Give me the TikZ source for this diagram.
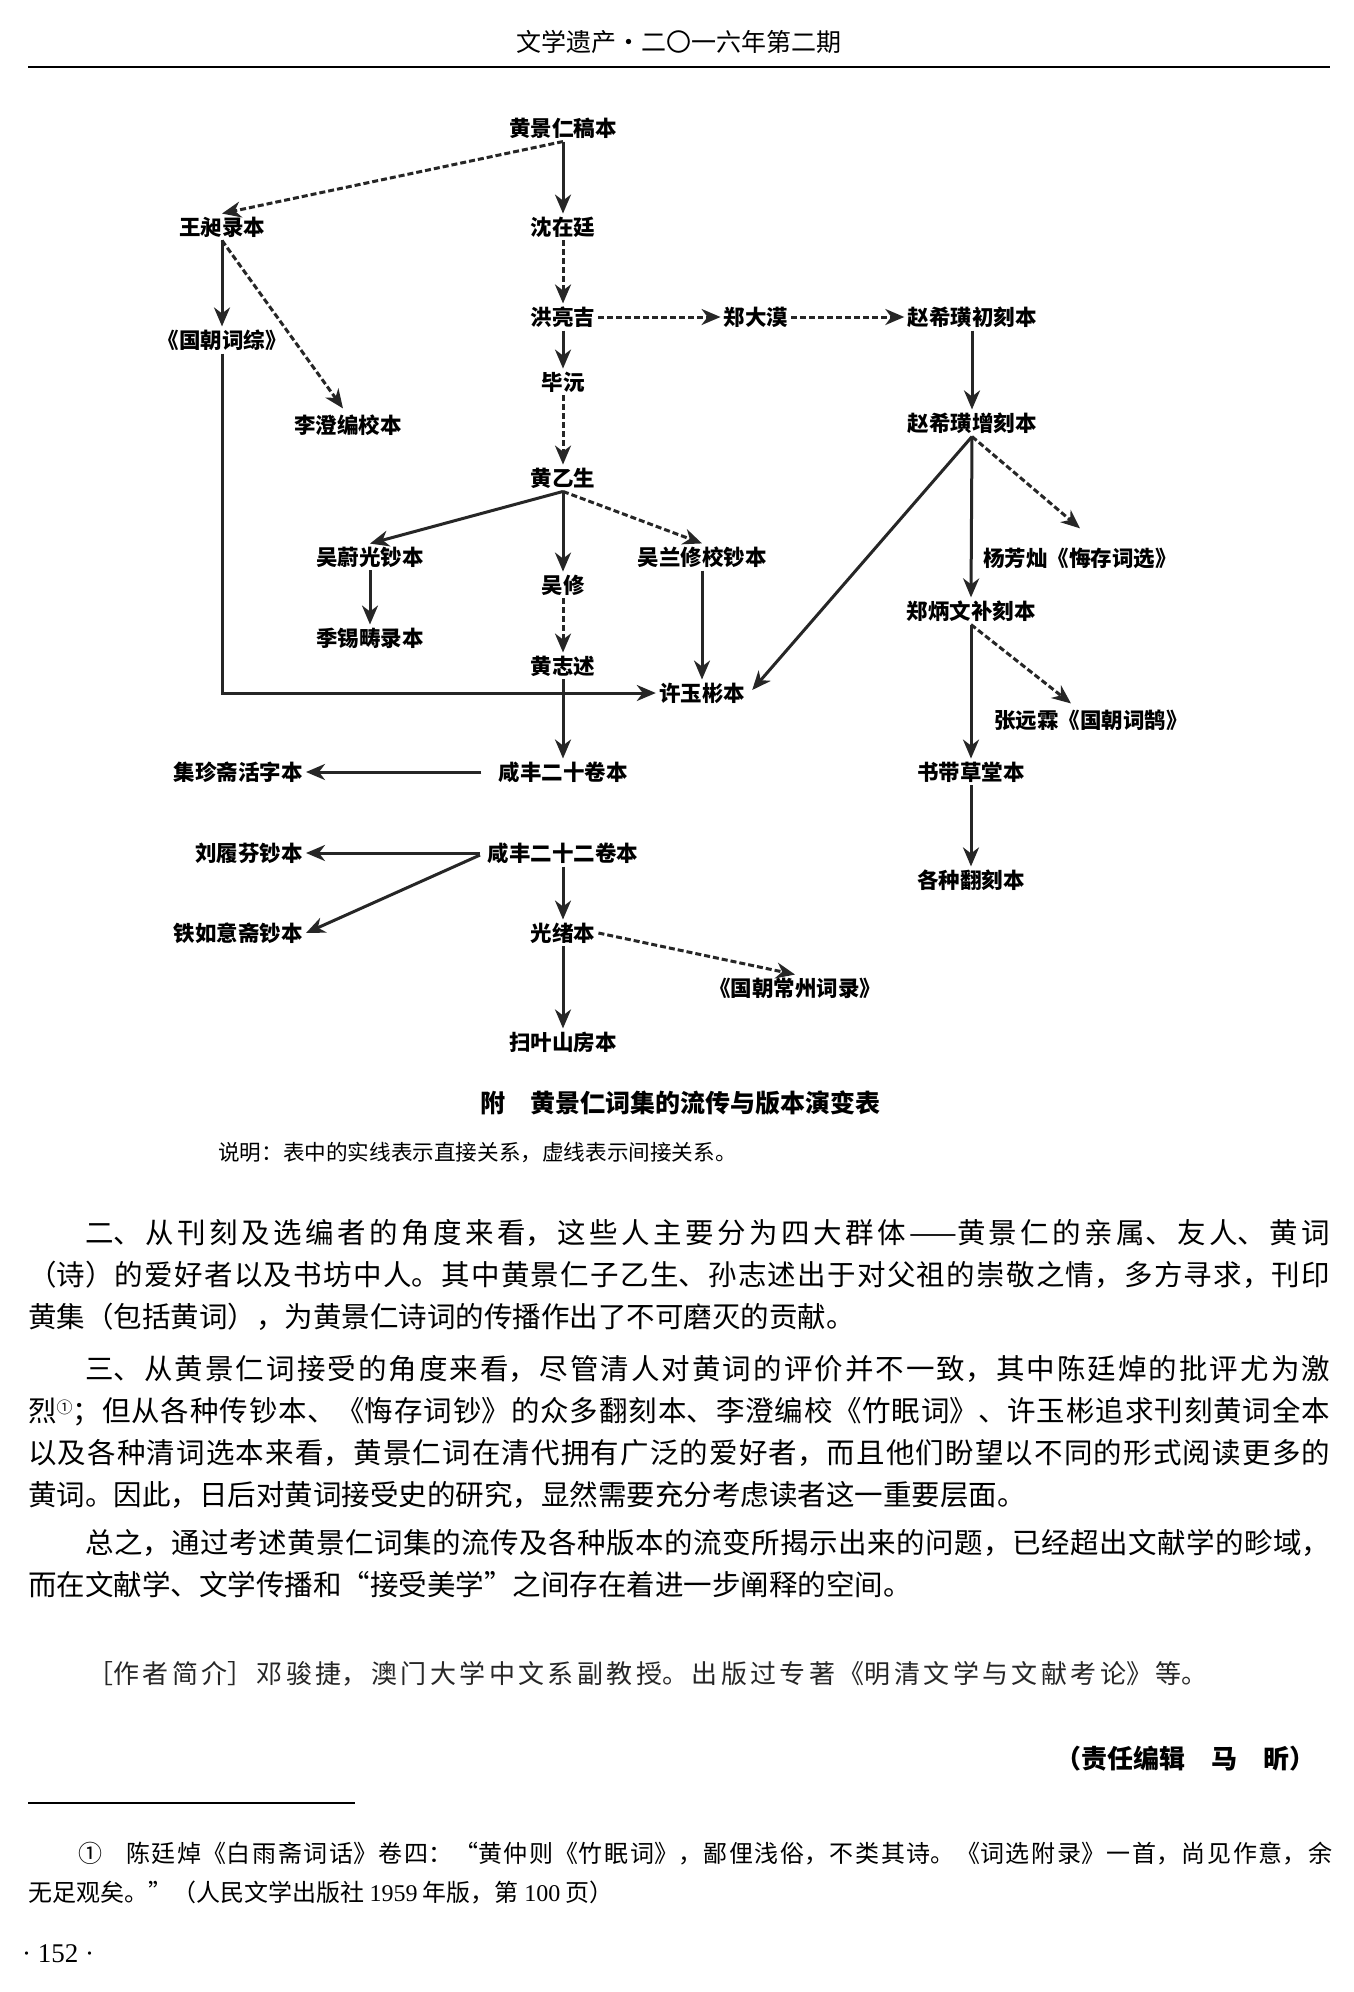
\documentclass[tikz,border=0pt]{standalone}
\usepackage{fontspec}
\setmainfont{Noto Sans CJK SC}
\newfontfamily\serifnum{Liberation Serif}
\usetikzlibrary{arrows.meta}
\XeTeXlinebreaklocale "zh"
\XeTeXlinebreakskip=0pt plus 1fil
\definecolor{ink}{HTML}{262626}
\newcommand{\lastline}{\hfill\mbox{}}
\tikzset{
  lbl/.style={font=\fontsize{21.5}{22}\selectfont\bfseries, inner sep=3pt, text=black},
  sol/.style={draw=ink, line width=3pt, -{Stealth[length=19pt,width=16pt,inset=6pt]}},
  dsh/.style={sol, dash pattern=on 6pt off 3pt},
  para/.style={anchor=base west, inner sep=0pt, align=justify, text width=1302pt, font=\fontsize{28.5}{42}\selectfont},
}
\begin{document}
\begin{tikzpicture}[x=1pt,y=-1pt]
\useasboundingbox (0,0) rectangle (1354,1992);
\fill[white] (0,0) rectangle (1354,1992);

% header
\node[anchor=base, inner sep=0pt, font=\fontsize{25}{25}\selectfont] (hdr) at (679,51) {文学遗产·二〇一六年第二期};
\draw[line width=2pt] (28,67) -- (1330,67);

% diagram nodes
\node[lbl] (gj)   at (563,128) {黄景仁稿本};
\node[lbl] (wc)   at (222,227) {王昶录本};
\node[lbl] (szt)  at (563,227) {沈在廷};
\node[lbl] (hlj)  at (563,317) {洪亮吉};
\node[lbl] (zdm)  at (756,317) {郑大漠};
\node[lbl] (zc)   at (972,317) {赵希璜初刻本};
\node[lbl] (gcz)  at (222,340) {《国朝词综》};
\node[lbl] (by)   at (563,382) {毕沅};
\node[lbl] (lc)   at (348,425) {李澄编校本};
\node[lbl] (zz)   at (972,423) {赵希璜增刻本};
\node[lbl] (hys)  at (563,478) {黄乙生};
\node[lbl] (wwg)  at (370,557) {吴蔚光钞本};
\node[lbl] (wlx)  at (702,557) {吴兰修校钞本};
\node[lbl] (yfc)  at (1080,558) {杨芳灿《悔存词选》};
\node[lbl] (wx)   at (563,585) {吴修};
\node[lbl] (zbw)  at (971,611) {郑炳文补刻本};
\node[lbl] (jxc)  at (370,638) {季锡畴录本};
\node[lbl] (hzs)  at (563,666) {黄志述};
\node[lbl] (xyb)  at (702,693) {许玉彬本};
\node[lbl] (zyl)  at (1091,720) {张远霖《国朝词鹄》};
\node[lbl,anchor=east] (jzz) at (306,772) {集珍斋活字本};
\node[lbl] (xf20) at (563,772) {咸丰二十卷本};
\node[lbl] (sdc)  at (971,772) {书带草堂本};
\node[lbl,anchor=east] (llf) at (306,853) {刘履芬钞本};
\node[lbl] (xf22) at (563,853) {咸丰二十二卷本};
\node[lbl] (gzf)  at (971,880) {各种翻刻本};
\node[lbl,anchor=east] (tyy) at (306,933) {铁如意斋钞本};
\node[lbl] (gx)   at (563,933) {光绪本};
\node[lbl] (gczz) at (795,988) {《国朝常州词录》};
\node[lbl] (syz)  at (563,1042) {扫叶山房本};

% connectors
\draw[dsh] (gj.south) -- (wc.north);
\draw[sol] (gj.south) -- (szt.north);
\draw[dsh] (szt.south) -- (hlj.north);
\draw[sol] (hlj.south) -- (by.north);
\draw[dsh] (by.south) -- (hys.north);
\draw[dsh] (hlj.east) -- (zdm.west);
\draw[dsh] (zdm.east) -- (zc.west);
\draw[sol] (zc.south) -- (zz.north);
\draw[sol] (zz.south) -- ([xshift=4pt,yshift=3pt]xyb.east);
\draw[sol] (zz.south) -- (zbw.north);
\draw[dsh] (zz.south) -- ([yshift=16pt]yfc.north);
\draw[sol] (zbw.south) -- (sdc.north);
\draw[dsh] (zbw.south) -- ([xshift=-20pt,yshift=3pt]zyl.north);
\draw[sol] (sdc.south) -- (gzf.north);
\draw[sol] (wc.south) -- (gcz.north);
\draw[dsh] (wc.south) -- ([xshift=-5pt,yshift=3pt]lc.north);
\draw[sol] (gcz.south) |- (xyb.west);
\draw[sol] (hys.south) -- (wwg.north);
\draw[sol] (hys.south) -- (wx.north);
\draw[dsh] (hys.south) -- (wlx.north);
\draw[sol] (wwg.south) -- (jxc.north);
\draw[dsh] (wx.south) -- (hzs.north);
\draw[sol] (wlx.south) -- (xyb.north);
\draw[sol] (hzs.south) -- (xf20.north);
\draw[sol, shorten <=14pt] (xf20.west) -- (jzz.east);
\draw[sol, shorten <=5pt] (xf22.west) -- (llf.east);
\draw[sol, shorten <=5pt] (xf22.west) -- (tyy.east);
\draw[sol] (xf22.south) -- (gx.north);
\draw[sol] (gx.south) -- (syz.north);
\draw[dsh] (gx.east) -- (gczz.north);

% caption and note
\node[anchor=base, inner sep=0pt, font=\fontsize{25}{25}\selectfont\bfseries] (cap) at (680,1112) {附　黄景仁词集的流传与版本演变表};
\node[anchor=base west, inner sep=0pt, font=\fontsize{21.6}{22}\selectfont] (note) at (218,1160) {说明：表中的实线表示直接关系，虚线表示间接关系。};

% body paragraphs
\node[para] (p1) at (28,1243) {\hspace*{57pt}二、从刊刻及选编者的角度来看，这些人主要分为四大群体——黄景仁的亲属、友人、黄词\linebreak（诗）的爱好者以及书坊中人。其中黄景仁子乙生、孙志述出于对父祖的崇敬之情，多方寻求，刊印\linebreak 黄集（包括黄词），为黄景仁诗词的传播作出了不可磨灭的贡献。\lastline};
\node[para] (p2) at (28,1379) {\hspace*{57pt}三、从黄景仁词接受的角度来看，尽管清人对黄词的评价并不一致，其中陈廷焯的批评尤为激\linebreak 烈\raisebox{8pt}{\fontsize{16}{16}\selectfont ①}；但从各种传钞本、《悔存词钞》的众多翻刻本、李澄编校《竹眠词》、许玉彬追求刊刻黄词全本\linebreak 以及各种清词选本来看，黄景仁词在清代拥有广泛的爱好者，而且他们盼望以不同的形式阅读更多的\linebreak 黄词。因此，日后对黄词接受史的研究，显然需要充分考虑读者这一重要层面。\lastline};
\node[para] (p3) at (28,1553) {\hspace*{57pt}总之，通过考述黄景仁词集的流传及各种版本的流变所揭示出来的问题，已经超出文献学的畛域，\linebreak 而在文献学、文学传播和“接受美学”之间存在着进一步阐释的空间。\lastline};

% author note
\node[anchor=base west, inner sep=0pt, align=justify, text width=1124pt, font=\fontsize{26}{30}\selectfont, text=black!85] (auth) at (87,1683) {\parfillskip=0pt［作者简介］邓骏捷，澳门大学中文系副教授。出版过专著《明清文学与文献考论》等。};

\node[anchor=base east, inner sep=0pt, font=\fontsize{26}{26}\selectfont\bfseries] (ed) at (1316,1768) {（责任编辑　马　昕）};

% footnote
\draw[line width=1.5pt] (28,1803) -- (355,1803);
\node[anchor=base west, inner sep=0pt, align=justify, text width=1304pt, font=\fontsize{24}{39}\selectfont] (fn) at (28,1862) {\hspace*{50pt}①\hspace*{24pt}陈廷焯《白雨斋词话》卷四：“黄仲则《竹眠词》，鄙俚浅俗，不类其诗。《词选附录》一首，尚见作意，余\linebreak 无足观矣。”（人民文学出版社 {\serifnum 1959} 年版，第 {\serifnum 100} 页）\lastline};

\node[anchor=base west, inner sep=0pt, font=\fontsize{27}{27}\selectfont\serifnum] (pg) at (22,1962) {· 152 ·};
\end{tikzpicture}
\end{document}
